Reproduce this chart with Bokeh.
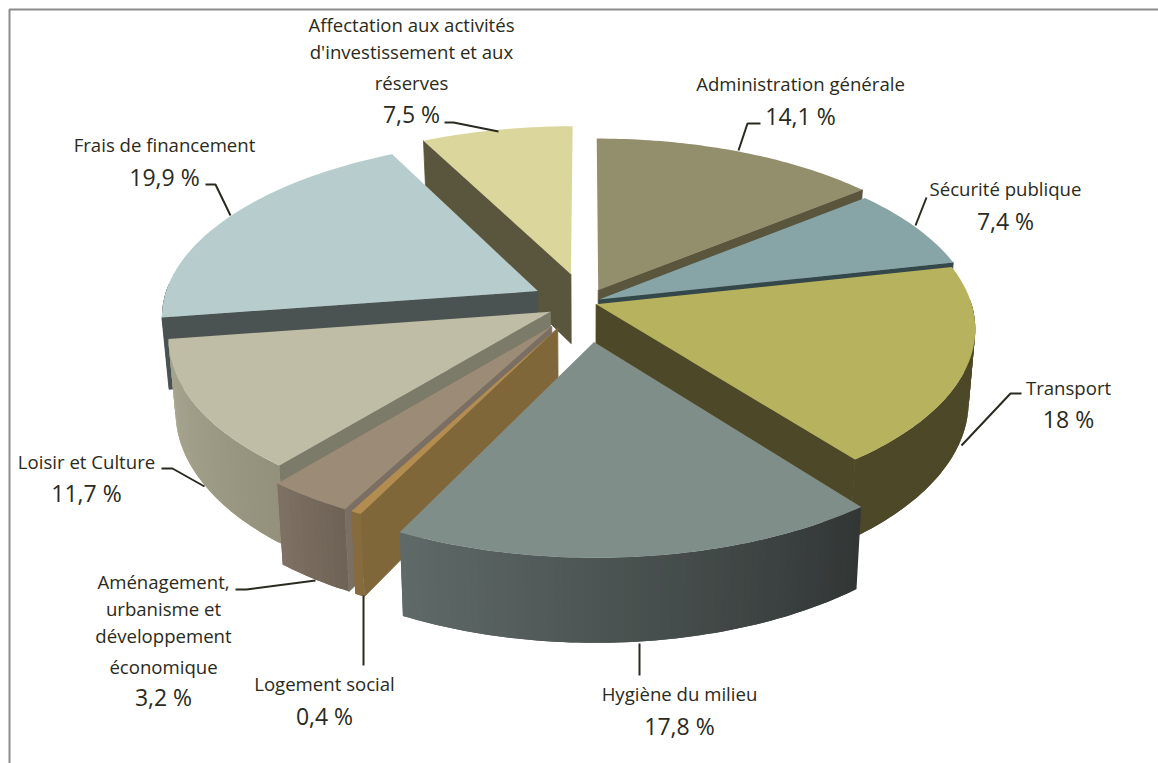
import math
from bokeh.plotting import figure
from bokeh.models import ColumnDataSource, Range1d
from bokeh.core.properties import value
from bokeh.embed import file_html
from bokeh.resources import INLINE

# ---- data
categories = ["Administration générale", "Sécurité publique", "Transport", "Hygiène du milieu",
              "Logement social", "Aménagement, urbanisme et développement économique",
              "Loisir et Culture", "Frais de financement",
              "Affectation aux activités d'investissement et aux réserves"]
shares = [14.1, 7.4, 18.0, 17.8, 0.4, 3.2, 11.7, 19.9, 7.5]
share_labels = ["14,1 %", "7,4 %", "18 %", "17,8 %", "0,4 %", "3,2 %", "11,7 %", "19,9 %", "7,5 %"]
explode = [0.08, 0.04, 0.03, 0.22, 0.16, 0.16, 0.107, 0.144, 0.17]

# ---- style
top_col = ["#938e6b", "#87a5a6", "#b7b25e", "#808e8a", "#b38d50", "#9c8b76", "#bfbda6", "#b6cccd", "#dbd69c"]
radial_col = ["#5a553d", "#34474a", "#4d4828", "#3a4140", "#80673a", "#7a6f62", "#7c7a68", "#4b5352", "#5a563d"]
wall_left = ["#5a553d", "#34474a", "#4d4828", "#5f6a68", "#866c3d", "#7e7163", "#aaa892", "#4b5352", "#5a563d"]
wall_right = ["#5a553d", "#34474a", "#4d4828", "#323736", "#866c3d", "#6e6356", "#93917b", "#4b5352", "#5a563d"]
paint_order = [8, 0, 1, 2, 7, 6, 5, 4, 3]
CX, CY, A, B, K, D, SHRINK = 585.0, 302.0, 375.0, 175.0, 0.135, 71.0, 0.017
INK = "#2a2a20"


def proj(X, Y, z=0.0):
    s = 1.0 / (1.0 + K * Y)
    return CX + A * X * s * (1 - SHRINK * z), CY - B * Y * s + D * s * z


def mix(c1, c2, t):
    a = [int(c1[i:i + 2], 16) for i in (1, 3, 5)]
    b = [int(c2[i:i + 2], 16) for i in (1, 3, 5)]
    return "#%02x%02x%02x" % tuple(round(u + (v - u) * t) for u, v in zip(a, b))


xs, ys, cols, strokes = [], [], [], []


def add(points, colour, stroke=0.0):
    xs.append([q[0] for q in points])
    ys.append([q[1] for q in points])
    cols.append(colour)
    strokes.append(stroke)


total = sum(shares)
starts, acc = [], 0.0
for v in shares:
    starts.append(acc)
    acc += v

for i in paint_order:
    t0 = math.radians(starts[i] / total * 360)
    t1 = math.radians((starts[i] + shares[i]) / total * 360)
    m = (t0 + t1) / 2
    ox, oy = explode[i] * math.sin(m), explode[i] * math.cos(m)
    n = max(3, int((t1 - t0) / math.radians(1)))
    angles = [t0 + (t1 - t0) * j / n for j in range(n + 1)]
    rim = [(ox + math.sin(a), oy + math.cos(a)) for a in angles]

    # radial walls that face the viewer
    for edge, normal in ((t0, t0 - math.pi / 2), (t1, t1 + math.pi / 2)):
        if math.cos(normal) < 0:
            ex, ey = ox + math.sin(edge), oy + math.cos(edge)
            add([proj(ox, oy), proj(ex, ey), proj(ex, ey, 1), proj(ox, oy, 1)], radial_col[i], 1.0)
    # outer wall, shaded along the arc; each quad is overlapped by the next to hide seams
    vis = [j for j in range(n) if math.cos((angles[j] + angles[j + 1]) / 2) < 0.02]
    for c, j in enumerate(vis):
        col = mix(wall_right[i], wall_left[i], c / max(1, len(vis) - 1))
        top_edge = [proj(*q) for q in rim[j:min(j + 2, n) + 1]]
        bot_edge = [proj(*q, 1) for q in rim[j:min(j + 2, n) + 1]]
        add(top_edge + bot_edge[::-1], col)
    # top face
    add([proj(ox, oy)] + [proj(*q) for q in rim], top_col[i])

W, H = 1158, 763
p = figure(width=W, height=H, x_range=Range1d(0, W), y_range=Range1d(H, 0),
           output_backend="svg", toolbar_location=None, min_border=0,
           outline_line_color=None, background_fill_color="white", border_fill_color="white")
p.axis.visible = False
p.grid.visible = False

# chart frame (top and left only reach the picture)
p.line([9, 9, W], [H, 9, 9], line_color="#8c8c8c", line_width=2)

p.patches("xs", "ys", source=ColumnDataSource(dict(xs=xs, ys=ys, c=cols, s=strokes)),
          fill_color="c", line_color="c", line_alpha="s", line_width=0.8)

# leader lines
leaders = [
    [(760, 123), (747, 123), (738, 150)],
    [(926, 197), (915, 225)],
    [(1021, 393), (1010, 393), (961, 445)],
    [(639, 643), (639, 675)],
    [(363, 595), (363, 665)],
    [(235, 589), (246, 589), (315, 580)],
    [(161, 468), (172, 468), (204, 486)],
    [(205, 184), (215, 184), (230, 215)],
    [(444, 122), (453, 122), (498, 131)],
]
for seg in leaders:
    p.line([q[0] for q in seg], [q[1] for q in seg], line_color=INK, line_width=2)

# labels: wrapped name lines, then the share
name_lines = [["Administration générale"], ["Sécurité publique"], ["Transport"], ["Hygiène du milieu"],
              ["Logement social"], ["Aménagement,", "urbanisme et", "développement", "économique"],
              ["Loisir et Culture"], ["Frais de financement"],
              ["Affectation aux activités", "d'investissement et aux", "réserves"]]
name_pos = [(800, [83]), (1005, [188]), (1068, [387]), (679, [693]), (324, [683]),
            (163, [581, 608, 635, 666]), (86, [461]), (164, [144]), (411, [24, 51, 82])]
share_y = [115, 220, 418, 725, 715, 696, 492, 176, 113]

nx, ny, nt = [], [], []
for lines, (x, yy) in zip(name_lines, name_pos):
    for t, y in zip(lines, yy):
        nx.append(x); ny.append(y); nt.append(t)
p.text(nx, ny, text=nt, text_font=value("Open Sans"), text_font_size="18.6px", text_color=INK,
       text_align="center", text_baseline="middle")
p.text([q[0] for q in name_pos], share_y, text=share_labels, text_font=value("Open Sans"),
       text_font_size="23px", text_color=INK, text_align="center", text_baseline="middle")

open("out.html", "w").write(file_html(p, INLINE))
